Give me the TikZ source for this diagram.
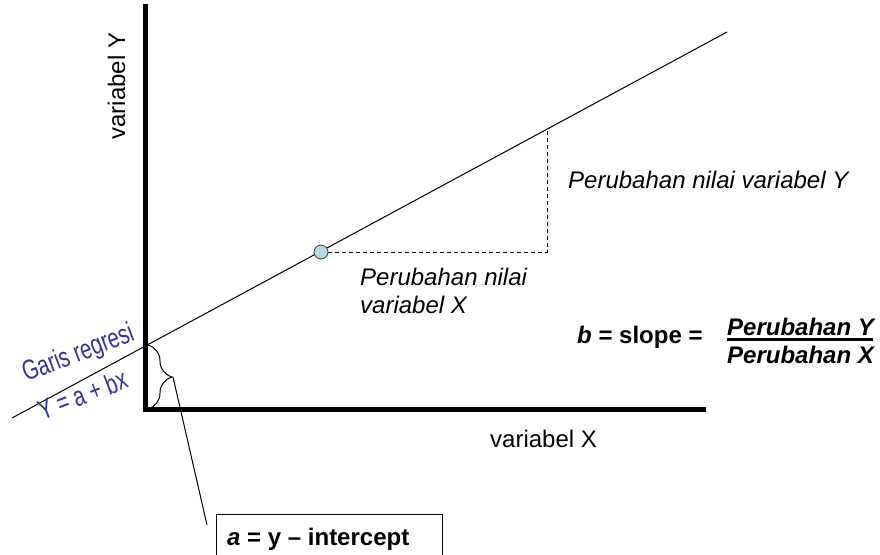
\documentclass[tikz,border=0pt]{standalone}
\usepackage{fontspec}
\setmainfont{Liberation Sans}
\usetikzlibrary{decorations.pathreplacing}

\begin{document}
\begin{tikzpicture}[x=1pt,y=-1pt]
            \tikzstyle{axis}=[line width=5pt,line join=miter]
            \tikzstyle{label}=[inner sep=0pt,font=\fontsize{24}{28}\selectfont]
            \tikzstyle{blue label}=[inner sep=0pt,text=regblue,rotate=21,anchor=base,font=\fontsize{28}{32}\selectfont]
            \tikzstyle{helper}=[line width=1pt,dash pattern=on 4pt off 3pt]
            \definecolor{regblue}{RGB}{51,51,153}
            \definecolor{dotfill}{RGB}{180,220,222}

            \clip (0,0) rectangle (880,554);

            \coordinate (yTop) at (145,4);
            \coordinate (origin) at (145,409);
            \coordinate (xEnd) at (706,409);
            \coordinate (lineStart) at (12,418);
            \coordinate (lineEnd) at (727,32);
            \coordinate (corner) at (547,252);
            \coordinate (top) at (547,130);
            \coordinate (braceTop) at (148,345);
            \coordinate (braceBottom) at (148,409);
            \coordinate (braceTip) at (173,377);
            \coordinate (leaderEnd) at (207,525);

            \draw[axis] (yTop) -- (origin) -- (xEnd);
            \draw[line width=1pt] (lineStart) -- (lineEnd);
            \draw[helper] (321,252) -- (corner) -- (top);
            \node (P) at (321,252) [circle,draw=black!75,fill=dotfill,line width=0.8pt,inner sep=0pt,minimum size=14pt] {};

            \draw[line width=1pt,decorate,decoration={brace,amplitude=24pt}] (braceTop) -- (braceBottom);
            \draw[line width=1pt] (braceTip) -- (leaderEnd);

            \node (varY) at (125,86) [label,rotate=90,anchor=base] {variabel Y};
            \node (varX) at (490,447) [label,anchor=base west] {variabel X};
            \node (dY) at (568,188) [label,anchor=base west] {\itshape Perubahan nilai variabel Y};
            \node (dX1) at (360,285) [label,anchor=base west] {\itshape Perubahan nilai};
            \node (dX2) at (360,313) [label,anchor=base west] {\itshape variabel X};

            \node (garis) at (81,361) [blue label] {\scalebox{0.73}[1]{Garis regresi}};
            \node (eq) at (86,404) [blue label] {\scalebox{0.73}[1]{Y = a + bx}};

            \node (slope) at (577,343) [label,anchor=base west] {\bfseries\itshape b\upshape{} = slope =};
            \node (num) at (727,335) [label,anchor=base west] {\bfseries\itshape Perubahan Y};
            \node (den) at (727,363) [label,anchor=base west] {\bfseries\itshape Perubahan X};
            \draw[line width=3pt] (727,339) -- (873,339);

            \draw[line width=1pt] (216,570) -- (216,514) -- (442,514) -- (442,570);
            \node (intercept) at (227,545) [label,anchor=base west] {\bfseries\itshape a\upshape{} = y -- intercept};
\end{tikzpicture}
\end{document}
